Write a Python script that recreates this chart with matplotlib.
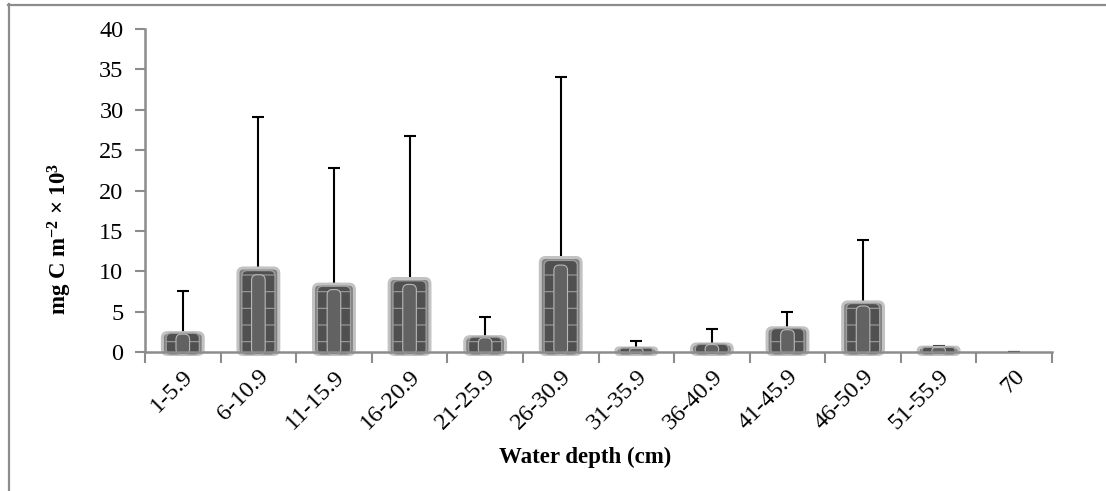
import matplotlib
matplotlib.use("Agg")

import matplotlib.pyplot as plt
from matplotlib.patches import FancyBboxPatch
from matplotlib.lines import Line2D
import numpy as np

# water depth classes and carbon values (mg C m-2 x 10^3)
depths = ["1-5.9", "6-10.9", "11-15.9", "16-20.9", "21-25.9", "26-30.9",
          "31-35.9", "36-40.9", "41-45.9", "46-50.9", "51-55.9", "70"]
means = [2.4, 10.4, 8.4, 9.1, 1.9, 11.7, 0.5, 1.0, 3.0, 6.2, 0.6, 0.0]
sd = [5.2, 18.7, 14.4, 17.7, 2.4, 22.3, 0.9, 1.8, 2.0, 7.7, 0.2, 0.0]

plt.rcParams["font.family"] = ["Liberation Serif", "DejaVu Serif"]
plt.rcParams["mathtext.fontset"] = "custom"
plt.rcParams["mathtext.rm"] = "Liberation Serif:bold"
plt.rcParams["mathtext.it"] = "Liberation Serif:bold"
plt.rcParams["mathtext.bf"] = "Liberation Serif:bold"
plt.rcParams["mathtext.default"] = "rm"

fig = plt.figure(figsize=(11.06, 4.91), dpi=100)
ax = fig.add_axes([0.1311, 0.2831, 0.8201, 0.6578])

x = np.arange(len(depths))
gray = "#8c8c8c"

# aspect between x and y data units in pixels, for rounded corners
px_x = 0.8201 * 1106 / 12
px_y = 0.6578 * 491 / 40
aspect = px_x / px_y
base = -0.3


def rounded_bars(width, scale_h, face, edge, lw, z, hatch=None):
    heights = [m * scale_h - base if m > 0 else 0 for m in means]
    bars = ax.bar(x, heights, bottom=base, width=width, color="none",
                  edgecolor="none")
    for rect in bars:
        h = rect.get_height()
        if h <= 0:
            continue
        r = min(0.07, h / 2 / aspect, rect.get_width() / 2)
        p = FancyBboxPatch((rect.get_x(), rect.get_y()), rect.get_width(), h,
                           boxstyle="round,pad=0,rounding_size=%f" % r,
                           mutation_aspect=aspect, facecolor=face,
                           edgecolor=edge, linewidth=lw, zorder=z, hatch=hatch,
                           clip_on=False)
        ax.add_patch(p)
        rect.remove()


plt.rcParams["hatch.color"] = "#a8a8a8"
plt.rcParams["hatch.linewidth"] = 0.8
rounded_bars(0.54, 1.0, "#7f7f7f", "#c2c2c2", 2.2, 3)
rounded_bars(0.44, 0.97, "#505050", "#9e9e9e", 1.0, 4, hatch="-")
rounded_bars(0.18, 0.92, "#626262", "#b8b8b8", 0.8, 5)

ax.errorbar(x, means, yerr=[np.zeros(len(sd)), sd], fmt="none",
            ecolor="black", elinewidth=1.5, capsize=4.5, capthick=1.5,
            zorder=2)

ax.set_xlim(-0.5, len(depths) - 0.5)
ax.set_ylim(0, 40)
ax.set_yticks(np.arange(0, 41, 5))

ax.set_xticks(np.arange(-0.5, len(depths)), minor=False)
ax.set_xticklabels([])
ax.set_xticks(x, minor=True)
ax.set_xticklabels(depths, minor=True, rotation=45, ha="right",
                   rotation_mode="anchor", fontsize=17.5)
ax.tick_params(axis="x", which="minor", length=0, pad=10)
ax.tick_params(axis="x", which="major", length=8, width=1.5, color=gray)
ax.tick_params(axis="y", length=7, width=1.5, color=gray, labelsize=17.5,
               pad=8.5)

for s in ["top", "right"]:
    ax.spines[s].set_visible(False)
for s in ["left", "bottom"]:
    ax.spines[s].set_color(gray)
    ax.spines[s].set_linewidth(1.8)
    ax.spines[s].set_zorder(6)

ax.set_ylabel("mg C m$^{-2}$ × 10$^{3}$", fontsize=16.5, fontweight="bold")
ax.yaxis.set_label_coords(-0.078, 0.35)
ax.set_xlabel("Water depth (cm)", fontsize=16.5, fontweight="bold")
ax.xaxis.set_label_coords(0.485, -0.294)

# outer chart frame
fig.add_artist(Line2D([8 / 1106, 1.0], [1 - 4.5 / 491, 1 - 4.5 / 491],
                      transform=fig.transFigure, color=gray, linewidth=1.6))
fig.add_artist(Line2D([8.5 / 1106, 8.5 / 1106], [0, 1 - 4 / 491],
                      transform=fig.transFigure, color=gray, linewidth=1.6))

fig.savefig("out.png", dpi=100)
